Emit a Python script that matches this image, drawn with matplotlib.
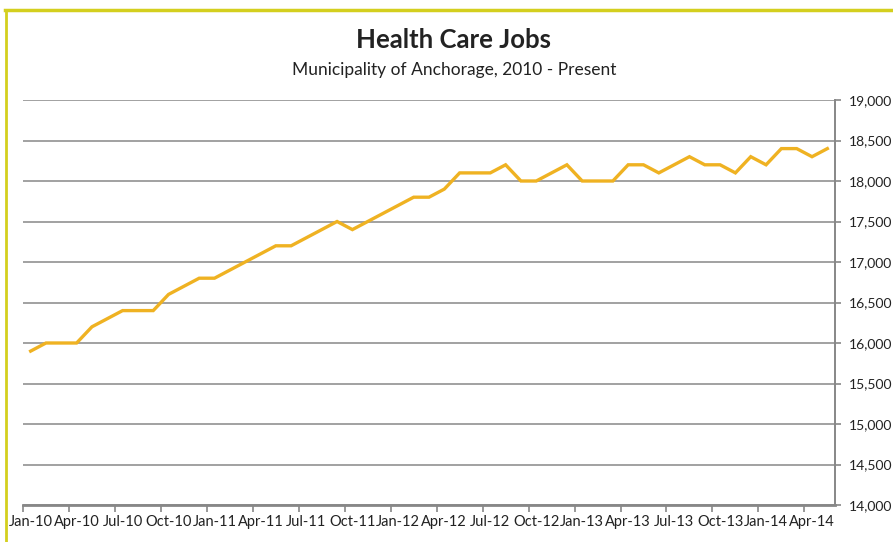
#! /usr/bin/env python3
import numpy as np
from matplotlib import pyplot as plt
from matplotlib.lines import Line2D

# Monthly health care jobs, Jan-10 .. May-14
months = ['Jan-10', 'Feb-10', 'Mar-10', 'Apr-10', 'May-10', 'Jun-10', 'Jul-10', 'Aug-10', 'Sep-10',
          'Oct-10', 'Nov-10', 'Dec-10',
          'Jan-11', 'Feb-11', 'Mar-11', 'Apr-11', 'May-11', 'Jun-11', 'Jul-11', 'Aug-11', 'Sep-11',
          'Oct-11', 'Nov-11', 'Dec-11',
          'Jan-12', 'Feb-12', 'Mar-12', 'Apr-12', 'May-12', 'Jun-12', 'Jul-12', 'Aug-12', 'Sep-12',
          'Oct-12', 'Nov-12', 'Dec-12',
          'Jan-13', 'Feb-13', 'Mar-13', 'Apr-13', 'May-13', 'Jun-13', 'Jul-13', 'Aug-13', 'Sep-13',
          'Oct-13', 'Nov-13', 'Dec-13',
          'Jan-14', 'Feb-14', 'Mar-14', 'Apr-14', 'May-14']
jobs = [15900, 16000, 16000, 16000, 16200, 16300, 16400, 16400, 16400, 16600, 16700, 16800,
        16800, 16900, 17000, 17100, 17200, 17200, 17300, 17400, 17500, 17400, 17500, 17600,
        17700, 17800, 17800, 17900, 18100, 18100, 18100, 18200, 18000, 18000, 18100, 18200,
        18000, 18000, 18000, 18200, 18200, 18100, 18200, 18300, 18200, 18200, 18100, 18300,
        18200, 18400, 18400, 18300, 18400]
y_ticks = [14000, 14500, 15000, 15500, 16000, 16500, 17000, 17500, 18000, 18500, 19000]

plt.rcParams['font.family'] = ['Lato', 'DejaVu Sans']

grey = '#878787'
gold = '#EFB222'
border = '#D4CF1E'

fig = plt.figure(figsize=(8.93, 5.42), dpi=100)
ax = fig.add_axes([23 / 893, 37 / 542, 812 / 893, 405 / 542])

x = np.arange(len(months))
ax.plot(x, jobs, color=gold, linewidth=2.4, solid_joinstyle='miter', zorder=3)

ax.set_xlim(-0.5, len(months) - 0.5)
ax.set_ylim(14000, 19000)

# Excel style: ticks between categories, labels at category centres
ax.set_xticks(np.arange(-0.5, len(months) - 1, 3))
ax.set_xticklabels([])
ax.set_xticks(x[::3], minor=True)
ax.set_xticklabels(months[::3], minor=True, fontsize=10.5, color='#222222')
ax.tick_params(axis='x', which='major', length=5, width=1.2, color=grey, direction='out')
ax.tick_params(axis='x', which='minor', length=0, pad=7)

ax.yaxis.tick_right()
ax.set_yticks(y_ticks)
ax.set_yticklabels([f'{v:,}' for v in y_ticks], fontsize=10, color='#222222')
ax.tick_params(axis='y', length=4, width=1.2, color=grey, pad=6)

ax.grid(axis='y', color=grey, linewidth=1.1)
ax.set_axisbelow(True)
for side in ['top', 'left']:
    ax.spines[side].set_visible(False)
ax.spines['right'].set_color(grey)
ax.spines['right'].set_linewidth(1.4)
ax.spines['bottom'].set_color(grey)
ax.spines['bottom'].set_linewidth(2)

fig.text(454 / 893, 1 - 40 / 542, 'Health Care Jobs', ha='center', va='center',
         fontsize=18.5, fontweight='bold', color='#222222')
fig.text(454 / 893, 1 - 70 / 542, 'Municipality of Anchorage, 2010 - Present', ha='center', va='center',
         fontsize=12.5, color='#222222')

# Yellow frame on top and left
fig.add_artist(Line2D([5 / 893, 1], [1 - 9.5 / 542] * 2, color=border, linewidth=2.5,
                      transform=fig.transFigure))
fig.add_artist(Line2D([5.5 / 893] * 2, [0, 1 - 9.5 / 542], color=border, linewidth=2,
                      transform=fig.transFigure))

fig.savefig('out.png')
